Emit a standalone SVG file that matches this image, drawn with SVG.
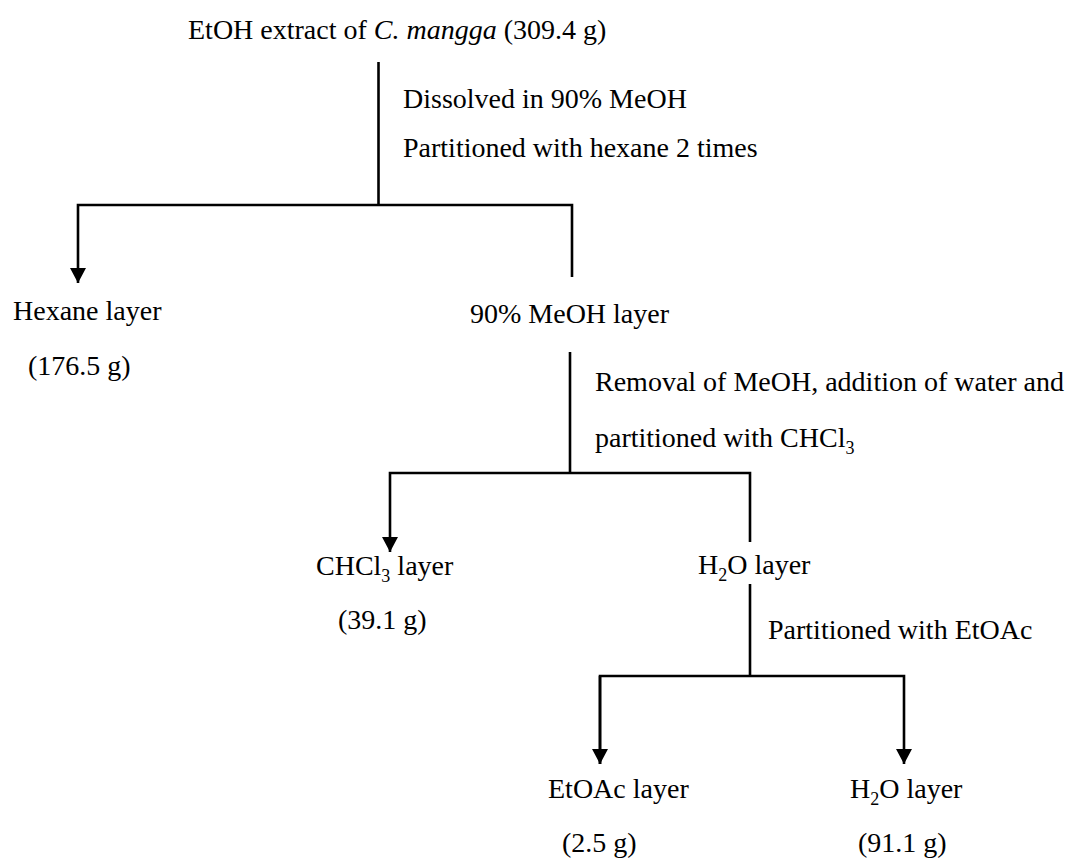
<svg xmlns="http://www.w3.org/2000/svg" width="1069" height="861" viewBox="0 0 1069 861">
<style>
text{font-family:"Liberation Serif","Times New Roman",serif;font-size:28px;fill:#000}
.sub{font-size:18px}
.ln{stroke:#000;stroke-width:2.6;fill:none}
</style>
<defs>
<marker id="ah" markerUnits="userSpaceOnUse" markerWidth="16" markerHeight="16" viewBox="0 0 16 16" refX="15" refY="8" orient="auto">
<path d="M0,0 L15,8 L0,16 Z" fill="#000"/>
</marker>
</defs>
<rect width="1069" height="861" fill="#fff"/>
<g id="connectors">
<line class="ln" x1="378.5" y1="62" x2="378.5" y2="205"/>
<polyline class="ln" points="572,277 572,205 78,205 78,283" marker-end="url(#ah)"/>
<line class="ln" x1="570" y1="352" x2="570" y2="473"/>
<polyline class="ln" points="750,542 750,473 390,473 390,552" marker-end="url(#ah)"/>
<line class="ln" x1="750" y1="584" x2="750" y2="676"/>
<polyline class="ln" points="600,764 600,676 904,676 904,764" marker-end="url(#ah)"/>
<line class="ln" x1="600" y1="676" x2="600" y2="764" marker-end="url(#ah)"/>
</g>
<g id="n-extract"><text x="188" y="39">EtOH extract of <tspan font-style="italic">C. mangga</tspan> (309.4 g)</text></g>
<g id="step1"><text x="403" y="108">Dissolved in 90% MeOH</text><text x="403" y="157">Partitioned with hexane 2 times</text></g>
<g id="n-hexane"><text x="13" y="320">Hexane layer</text><text x="28" y="375">(176.5 g)</text></g>
<g id="n-meoh"><text x="470" y="323">90% MeOH layer</text></g>
<g id="step2"><text x="595" y="391">Removal of MeOH, addition of water and</text><text x="595" y="447">partitioned with CHCl<tspan class="sub" dy="7">3</tspan></text></g>
<g id="n-chcl3"><text x="316" y="575">CHCl<tspan class="sub" dy="7">3</tspan><tspan dy="-7"> layer</tspan></text><text x="338" y="629">(39.1 g)</text></g>
<g id="n-h2o1"><text x="698" y="574">H<tspan class="sub" dy="7">2</tspan><tspan dy="-7">O layer</tspan></text></g>
<g id="step3"><text x="768" y="639">Partitioned with EtOAc</text></g>
<g id="n-etoac"><text x="548" y="798">EtOAc layer</text><text x="562" y="852">(2.5 g)</text></g>
<g id="n-h2o2"><text x="850" y="798">H<tspan class="sub" dy="7">2</tspan><tspan dy="-7">O layer</tspan></text><text x="858" y="852">(91.1 g)</text></g>
</svg>
